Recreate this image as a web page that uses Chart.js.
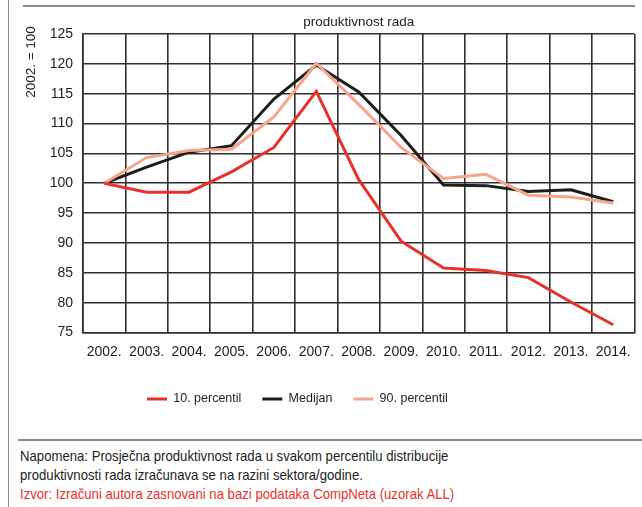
<!DOCTYPE html>
<html>
<head>
<meta charset="utf-8">
<script src="https://cdn.jsdelivr.net/npm/chart.js@4.4.1/dist/chart.umd.min.js"></script>
<style>
  html, body { margin: 0; padding: 0; background: #fff; }
  #wrap { position: relative; width: 642px; height: 507px; overflow: hidden; background: #fff; }
  #c { position: absolute; left: 0; top: 0; }
  .rule { position: absolute; background: #8a8a8a; }
  #notes { position: absolute; left: 20px; top: 447px; font-family: "Liberation Sans", Arial, sans-serif; font-size: 14.5px; line-height: 19px; color: #1d1d1b; white-space: nowrap; transform: scaleX(0.907); transform-origin: 0 0; }
  #notes .src { color: #e8312b; }
</style>
</head>
<body>
<div id="wrap">
  <canvas id="c" width="642" height="416"></canvas>
  <div class="rule" style="left:8px;top:0;width:1px;height:507px;"></div>
  <div class="rule" style="left:23px;top:5px;width:612px;height:2px;"></div>
  <div class="rule" style="left:18px;top:439px;width:624px;height:2px;"></div>
  <div id="notes">
    <div>Napomena: Prosječna produktivnost rada u svakom percentilu distribucije</div>
    <div>produktivnosti rada izračunava se na razini sektora/godine.</div>
    <div class="src">Izvor: Izračuni autora zasnovani na bazi podataka CompNeta (uzorak ALL)</div>
  </div>
</div>
<script>
const years = ["2002.", "2003.", "2004.", "2005.", "2006.", "2007.", "2008.", "2009.", "2010.", "2011.", "2012.", "2013.", "2014."];
const percentile10 = [100, 98.5, 98.5, 101.9, 106.0, 115.4, 100.6, 90.3, 85.8, 85.4, 84.2, 80.1, 76.3];
const median = [100, 102.7, 105.2, 106.3, 114.1, 119.8, 115.3, 108.0, 99.7, 99.6, 98.6, 98.9, 96.9];
const percentile90 = [100, 104.3, 105.5, 105.7, 111.1, 120.1, 113.2, 106.0, 100.8, 101.5, 98.0, 97.7, 96.7];
const seriesNames = ["10. percentil", "Medijan", "90. percentil"];
const yTicks = [75, 80, 85, 90, 95, 100, 105, 110, 115, 120, 125];
const chartTitle = "produktivnost rada";
const yTitle = "2002. = 100";

const TEXT = "#1d1d1b";
const GRID = "#2e2e2e";
const FONT = "'Liberation Sans', Arial, sans-serif";

const extras = {
  id: "extras",
  afterLayout(chart) {
    const lg = chart.legend;
    if (lg) {
      const lab = lg.options.labels;
      const pad = lab.padding;
      const itemH = Math.max(lab.boxHeight, lab.font.size);
      const w = lg.width, h = lg.height;
      lg.left = 147 - pad;
      lg.right = lg.left + w;
      lg.top = 399 - pad - itemH / 2;
      lg.bottom = lg.top + h;
    }
  },
  afterDraw(chart) {
    const ctx = chart.ctx;
    const a = chart.chartArea;
    ctx.save();
    ctx.fillStyle = TEXT;
    ctx.font = "13.5px " + FONT;
    ctx.textAlign = "center";
    ctx.textBaseline = "alphabetic";
    ctx.fillText(chartTitle, (a.left + a.right) / 2, 26);
    ctx.translate(31, 62);
    ctx.rotate(-Math.PI / 2);
    ctx.textBaseline = "middle";
    ctx.fillText(yTitle, 0, 0);
    ctx.restore();
  }
};

new Chart(document.getElementById("c"), {
  type: "line",
  data: {
    labels: years,
    datasets: [
      { label: seriesNames[0], data: percentile10, borderColor: "#e63329", backgroundColor: "#e63329", borderWidth: 3, pointRadius: 0, tension: 0, order: 0 },
      { label: seriesNames[1], data: median, borderColor: "#1d1d1b", backgroundColor: "#1d1d1b", borderWidth: 3, pointRadius: 0, tension: 0, order: 2 },
      { label: seriesNames[2], data: percentile90, borderColor: "#f4a58a", backgroundColor: "#f4a58a", borderWidth: 3, pointRadius: 0, tension: 0, order: 1 }
    ]
  },
  options: {
    responsive: false,
    animation: false,
    events: [],
    layout: { padding: { left: 0, right: 7, top: 34, bottom: 0 } },
    plugins: {
      title: { display: false },
      tooltip: { enabled: false },
      legend: {
        display: true,
        position: "bottom",
        align: "start",
        labels: {
          usePointStyle: true,
          pointStyle: "line",
          pointStyleWidth: 20,
          boxHeight: 12.5,
          padding: 21,
          color: TEXT,
          font: { family: FONT, size: 12.5 },
          sort: (a, b) => a.datasetIndex - b.datasetIndex
        }
      }
    },
    scales: {
      x: {
        type: "category",
        offset: true,
        grid: { offset: true, color: GRID, lineWidth: 1.6, drawTicks: false },
        border: { color: GRID, width: 1.6 },
        ticks: { color: TEXT, padding: 11, maxRotation: 0, autoSkip: false, font: { family: FONT, size: 14 } },
        afterFit(scale) { scale.height = 40; }
      },
      y: {
        min: 75,
        max: 125,
        afterBuildTicks(scale) { scale.ticks = yTicks.map(v => ({ value: v })); },
        grid: { color: GRID, lineWidth: 1.6, drawTicks: false },
        border: { color: GRID, width: 1.6 },
        ticks: { color: TEXT, padding: 10, font: { family: FONT, size: 14 } },
        afterFit(scale) { scale.width = 83; }
      }
    }
  },
  plugins: [extras]
});
</script>
</body>
</html>
